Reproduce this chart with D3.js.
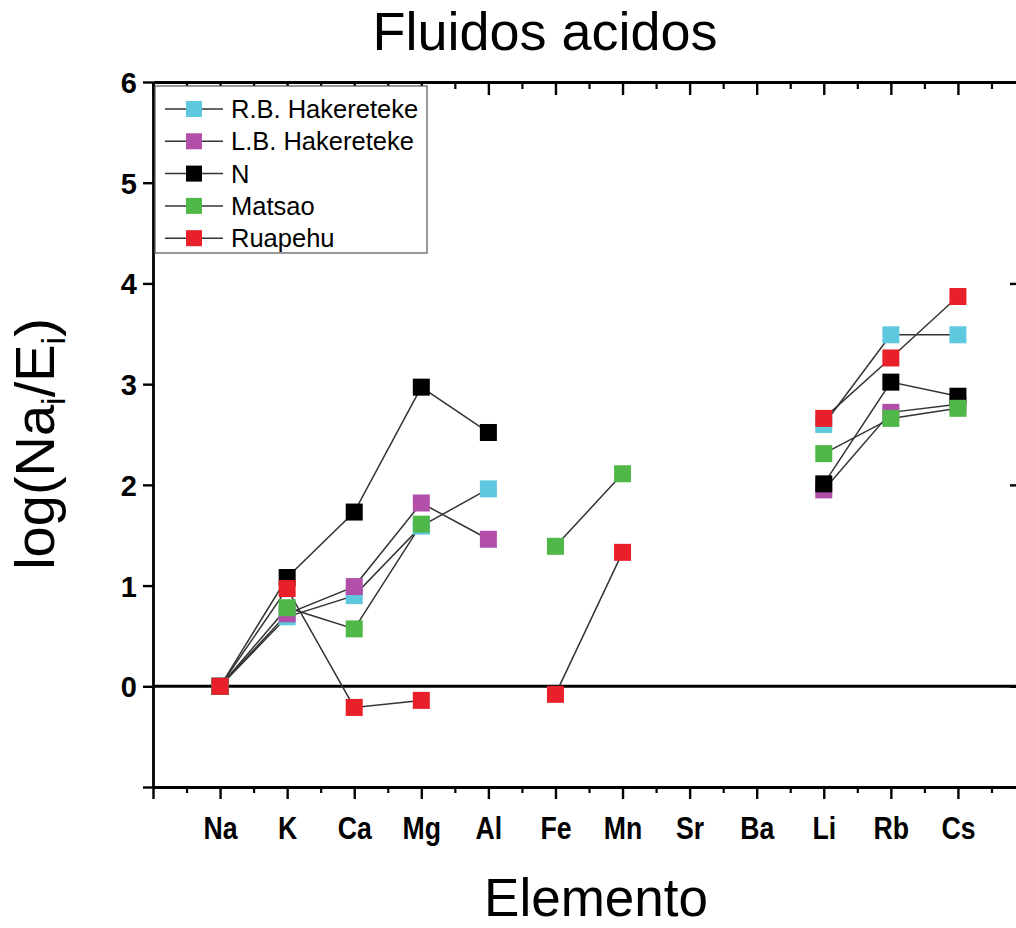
<!DOCTYPE html>
<html>
<head>
<meta charset="utf-8">
<script src="https://cdn.jsdelivr.net/npm/d3@7"></script>
<style>
  body { margin: 0; background: #fff; }
  svg text { font-family: "Liberation Sans", Arial, sans-serif; }
</style>
</head>
<body>
<svg id="chart" width="1016" height="928"></svg>
<script>
// element order along the x axis
const elements = ['Na', 'K', 'Ca', 'Mg', 'Al', 'Fe', 'Mn', 'Sr', 'Ba', 'Li', 'Rb', 'Cs'];

// log(Na_i/E_i) per sample, null = not measured
const rbHakereteke = [0, 0.69, 0.90, 1.59, 1.96, null, null, null, null, 2.60, 3.49, 3.49];
const lbHakereteke = [0, 0.72, 0.99, 1.82, 1.46, null, null, null, null, 1.95, 2.72, 2.80];
const nSample      = [0, 1.08, 1.73, 2.97, 2.52, null, null, null, null, 2.01, 3.02, 2.88];
const matsao       = [0, 0.78, 0.57, 1.61, null, 1.39, 2.11, null, null, 2.31, 2.66, 2.76];
const ruapehu      = [0, 0.97, -0.21, -0.14, null, -0.08, 1.33, null, null, 2.66, 3.26, 3.87];

const seriesNames = ['R.B. Hakereteke', 'L.B. Hakereteke', 'N', 'Matsao', 'Ruapehu'];
const seriesColors = ['#5ec9de', '#b24fa9', '#000000', '#50b848', '#e8202a'];
const seriesValues = [rbHakereteke, lbHakereteke, nSample, matsao, ruapehu];

const yTicks = [-1, 0, 1, 2, 3, 4, 5, 6];
const rightTicks = [0, 2, 4, 6];

const svg = d3.select('#chart');

const margin = { left: 153, right: 1025, top: 82, bottom: 787 };

// x works on the element index: 0 and 13 are the empty ends of the frame
const x = d3.scaleLinear().domain([0, elements.length + 1]).range([margin.left, margin.right]);
const y = d3.scaleLinear().domain([-1, 6]).range([margin.bottom, margin.top]);

const majorX = d3.range(0, elements.length + 2);
const minorX = d3.range(0.5, elements.length + 1, 1);

// bottom axis, minor ticks first
svg.append('g')
    .attr('transform', `translate(0,${margin.bottom})`)
    .call(d3.axisBottom(x).tickValues(minorX).tickSize(6).tickFormat(''))
    .call(g => g.select('.domain').remove())
    .call(g => g.selectAll('line').attr('stroke-width', 2.2));

svg.append('g')
    .attr('class', 'x-axis')
    .attr('transform', `translate(0,${margin.bottom})`)
    .call(d3.axisBottom(x).tickValues(majorX).tickSize(12).tickSizeOuter(0)
        .tickFormat(i => elements[i - 1] || ''))
    .call(g => g.select('.domain').attr('stroke-width', 2.8))
    .call(g => g.selectAll('line').attr('stroke-width', 2.4))
    .call(g => g.selectAll('text')
        .attr('font-size', 31).attr('font-weight', 'bold').attr('fill', '#000')
        .attr('dy', 0).attr('y', 52)
        .attr('transform', 'scale(0.86,1)'));

// top axis, ticks pointing inward
svg.append('g')
    .attr('transform', `translate(0,${margin.top})`)
    .call(d3.axisTop(x).tickValues(minorX).tickSize(-7).tickFormat(''))
    .call(g => g.select('.domain').remove())
    .call(g => g.selectAll('line').attr('stroke-width', 2.2));

svg.append('g')
    .attr('transform', `translate(0,${margin.top})`)
    .call(d3.axisTop(x).tickValues(majorX).tickSize(-13).tickSizeOuter(0).tickFormat(''))
    .call(g => g.select('.domain').attr('stroke-width', 2.8))
    .call(g => g.selectAll('line').attr('stroke-width', 2.4));

// left axis
svg.append('g')
    .attr('transform', `translate(${margin.left},0)`)
    .call(d3.axisLeft(y).tickValues(yTicks).tickSize(10).tickSizeOuter(0)
        .tickFormat(v => v < 0 ? '' : v))
    .call(g => g.select('.domain').attr('stroke-width', 2.8))
    .call(g => g.selectAll('line').attr('stroke-width', 2.4))
    .call(g => g.selectAll('text')
        .attr('font-size', 29).attr('font-weight', 'bold').attr('fill', '#000')
        .attr('x', -16).attr('dy', '0.36em'));

// right axis (its line sits just past the picture edge)
svg.append('g')
    .attr('transform', `translate(${margin.right},0)`)
    .call(d3.axisRight(y).tickValues(rightTicks).tickSize(-15).tickSizeOuter(0).tickFormat(''))
    .call(g => g.select('.domain').attr('stroke-width', 2.8))
    .call(g => g.selectAll('line').attr('stroke-width', 2.4));

// zero reference line
svg.append('line')
    .attr('x1', margin.left).attr('x2', margin.right)
    .attr('y1', y(0)).attr('y2', y(0))
    .attr('stroke', '#000').attr('stroke-width', 3);

// connecting lines, broken where a value is missing
const line = d3.line()
    .defined(d => d != null)
    .x((d, i) => x(i + 1))
    .y(d => y(d));

svg.append('g').selectAll('path')
    .data(seriesValues)
    .join('path')
    .attr('d', line)
    .attr('fill', 'none')
    .attr('stroke', '#333')
    .attr('stroke-width', 1.5);

const sq = 17;
seriesValues.forEach((vals, s) => {
    svg.append('g').selectAll('rect')
        .data(vals.map((v, i) => ({ v, i })).filter(d => d.v != null))
        .join('rect')
        .attr('x', d => x(d.i + 1) - sq / 2)
        .attr('y', d => y(d.v) - sq / 2)
        .attr('width', sq).attr('height', sq)
        .attr('fill', seriesColors[s]);
});

// legend
const legend = svg.append('g').attr('transform', 'translate(155,86)');
legend.append('rect')
    .attr('width', 272).attr('height', 167)
    .attr('fill', '#fff').attr('stroke', '#555').attr('stroke-width', 1.2);

const item = legend.selectAll('.item')
    .data(seriesNames)
    .join('g')
    .attr('class', 'item')
    .attr('transform', (d, i) => `translate(0,${23 + i * 32.3})`);

item.append('line')
    .attr('x1', 10).attr('x2', 68)
    .attr('stroke', '#333').attr('stroke-width', 1.5);
item.append('rect')
    .attr('x', 31).attr('y', -8).attr('width', 16).attr('height', 16)
    .attr('fill', (d, i) => seriesColors[i]);
item.append('text')
    .attr('x', 76).attr('dy', '0.36em')
    .attr('font-size', 25.5)
    .text(d => d);

// titles
svg.append('text')
    .attr('x', 545).attr('y', 50)
    .attr('text-anchor', 'middle')
    .attr('font-size', 54)
    .text('Fluidos acidos');

svg.append('text')
    .attr('x', 596).attr('y', 916)
    .attr('text-anchor', 'middle')
    .attr('font-size', 53)
    .text('Elemento');

const yLabel = svg.append('text')
    .attr('transform', 'translate(54,444) rotate(-90)')
    .attr('text-anchor', 'middle')
    .attr('font-size', 56);
yLabel.append('tspan').text('log(Na');
yLabel.append('tspan').attr('font-size', 34).attr('dy', 11).text('i');
yLabel.append('tspan').attr('dy', -11).text('/E');
yLabel.append('tspan').attr('font-size', 34).attr('dy', 11).text('i');
yLabel.append('tspan').attr('dy', -11).text(')');
</script>
</body>
</html>
